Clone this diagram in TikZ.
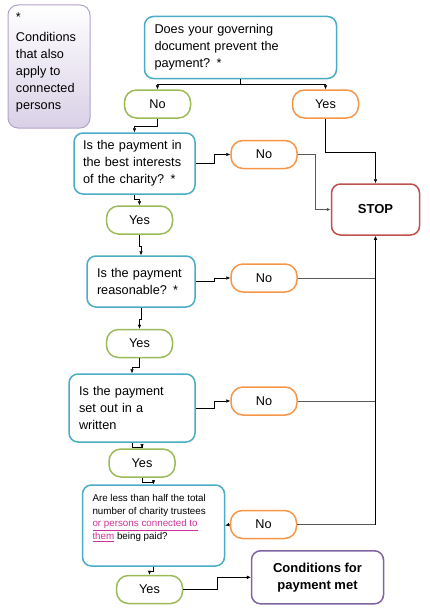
\documentclass[tikz,border=0pt]{standalone}
\usepackage{fontspec}
\setmainfont{Liberation Sans}
\usepackage{tikz}
\usetikzlibrary{arrows.meta}
\definecolor{qblue}{HTML}{4BACC6}
\definecolor{ygreen}{HTML}{9BBB59}
\definecolor{norange}{HTML}{F79646}
\definecolor{stopred}{HTML}{C0504D}
\definecolor{okpurple}{HTML}{8064A2}
\definecolor{notelav}{HTML}{D9D0E6}
\definecolor{noteedge}{HTML}{B3A2C8}
\definecolor{linkpink}{HTML}{CC3399}
\newcommand{\lnk}[1]{\textcolor{linkpink}{\underline{#1}}}

\begin{document}
\begin{tikzpicture}[x=1pt,y=-1pt, every node/.style={font=\fontsize{12.7}{17}\selectfont},
  quest/.style={draw=qblue,line width=1.5pt,rounded corners=9pt,align=left,
  inner xsep=10pt,inner ysep=0pt}, yes/.style={draw=ygreen,line width=1.5pt,
  rounded corners=12pt,minimum width=66pt,minimum height=28pt,inner sep=0pt},
  no/.style={yes,draw=norange}, stopbox/.style={draw=stopred,line width=1.5pt,
  rounded corners=9pt,font=\fontsize{13}{17}\selectfont\bfseries,align=center,
  inner sep=0pt}, edge/.style={-{Latex[length=4pt,width=3.5pt]},thin},
  side/.style={draw=black!65,line width=1pt}] \useasboundingbox (0,0)
  rectangle (430,610); \node[draw=noteedge,line width=1pt,rounded corners=10pt,
  top color=white,bottom color=notelav,inner sep=0pt,minimum width=82pt,
  minimum height=123pt] (note) at (49,66.5) {\parbox[c][107pt][t]{66pt}{*\\[3pt]
  Conditions\\that also\\apply to\\connected\\persons}}; \node[quest,text
  width=172pt,minimum height=62pt] (q1) at (240.5,47.5) {Does your governing\\
  document prevent the\\payment? *}; \node[no] (yes1) at (325.5,104) {Yes};
  \node[yes] (no1) at (157.5,104) {No}; \node[quest,text width=103pt,inner
  xsep=9pt,minimum height=61pt] (q2) at (134.5,163.5) {Is the payment in\\the
  best interests\\of the charity? *}; \node[no] (no2) at (264,154.5) {No};
  \node[stopbox,minimum width=88pt,minimum height=51pt] (stop) at (375.5,209.5)
  {STOP}; \node[yes] (yes2) at (139.5,220) {Yes}; \node[quest,text width=88pt,
  minimum height=51pt] (q3) at (141,281.5) {Is the payment\\reasonable? *};
  \node[no] (no3) at (264,278) {No}; \node[yes] (yes3) at (139.5,343.5) {Yes};
  \node[quest,text width=106pt,minimum height=68pt] (q4) at (132,408) {Is the
  payment\\set out in a\\written}; \node[no] (no4) at (264,401) {No};
  \node[yes] (yes4) at (142,463) {Yes}; \node[quest,inner xsep=0pt,minimum
  width=142pt,minimum height=81pt,font=\fontsize{9.8}{12.6}\selectfont] (q5) at
  (153.5,525.5) {\parbox[c][62pt][t]{122pt}{Are less than half the total\\
  number of charity trustees\\\lnk{or persons connected to}\\\lnk{them} being
  paid?}}; \node[no] (no5) at (263.5,524.5) {No}; \node[yes] (yes5) at
  (149.5,589.5) {Yes}; \node[stopbox,draw=okpurple,minimum width=132pt,minimum
  height=53pt] (met) at (317.5,577.3) {Conditions for\\payment met};
  \draw[thin] (q1.south) -- ++(0,5) coordinate (split); \draw[edge] (split) -|
  (no1.north); \draw[edge] (split) -| (yes1.north); \draw[edge] (yes1.south)
  -- ++(0,33) -| (stop.north); \draw[edge] (no1.south) -- ++(0,7) -|
  (q2.north); \draw[edge] (q2.east) -- ++(18,0) |- (no2.west); \draw[edge,side]
  (no2.east) -- ++(18,0) |- (stop.west); \draw[edge] (q2.south) -- ++(0,4) -|
  (yes2.north); \draw[edge] (yes2.south) -- ++(0,11) -| (q3.north); \draw[edge]
  (q3.east) -- ++(18,0) |- (no3.west); \draw[side] (no3.east) -- (no3.east -|
  stop.south); \draw[edge] (q3.south) -- ++(0,11) -| (yes3.north); \draw[edge]
  (yes3.south) -- ++(0,9) -| (q4.north); \draw[edge] (q4.east) -- ++(18,0) |-
  (no4.west); \draw[side] (no4.east) -- (no4.east -| stop.south); \draw[edge]
  (q4.south) -- ++(0,4) -| (yes4.north); \draw[edge] (yes4.south) -- ++(0,4)
  -| (q5.north); \draw[edge] (no5.west) -- (q5.east); \draw[side] (no5.east)
  -- (no5.east -| stop.south); \draw[edge,line width=1.6pt] (no5.east -|
  stop.south) -- (stop.south); \draw[edge] (q5.south) -- ++(0,4) -|
  (yes5.north); \draw[edge] (yes5.east) -- ++(34,0) |- (met.west);
\end{tikzpicture}
\end{document}
